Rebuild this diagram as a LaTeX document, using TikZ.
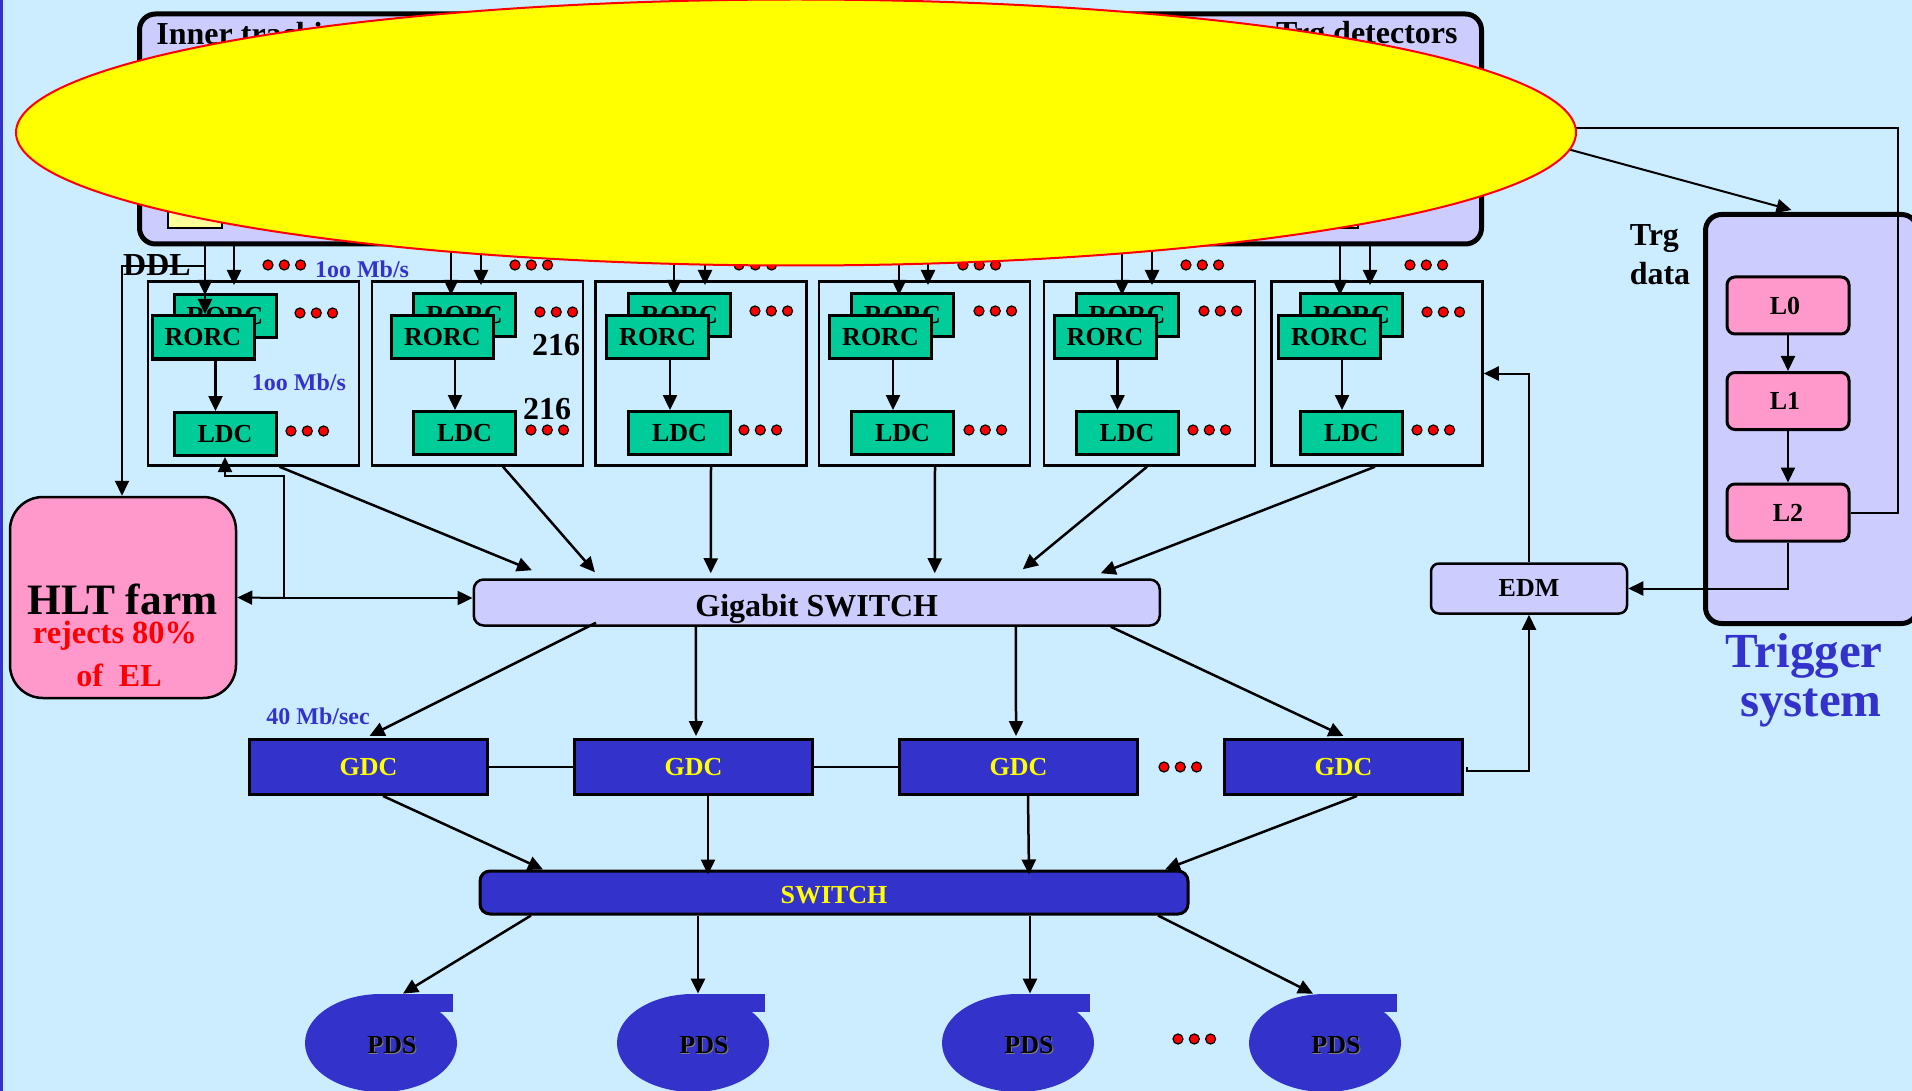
\documentclass[tikz,border=0pt]{standalone}
\usepackage{fontspec}
\setmainfont{Liberation Serif}
\usetikzlibrary{shapes.geometric,arrows.meta,positioning}
\definecolor{pagebg}{HTML}{CCECFF}
\definecolor{darkblue}{HTML}{3333CC}
\definecolor{lavender}{HTML}{CCCCFF}
\definecolor{rorcgreen}{HTML}{00CC99}
\definecolor{hotpink}{HTML}{FF99CC}
\definecolor{paleyellow}{HTML}{FFFF99}
\definecolor{fullyellow}{HTML}{FFFF00}
\definecolor{fullred}{HTML}{FF0000}

\begin{document}
\begin{tikzpicture}[
    x=0.5pt, y=-0.5pt,
    every node/.style={font=\bfseries\fontsize{13}{15}\selectfont},
    arrow/.style={-{Triangle[length=7.5pt,width=7pt]}, line width=1.25pt},
    thinarrow/.style={-{Triangle[length=7.5pt,width=7pt]}, line width=1pt},
    panel/.style={draw, line width=1.25pt, minimum width=105.5pt, minimum height=92pt},
    rorc/.style={draw, line width=1.5pt, fill=rorcgreen, inner sep=0pt, minimum width=51pt, minimum height=21.5pt},
    gdc/.style={draw, line width=1.5pt, fill=darkblue, text=fullyellow, inner sep=0pt, minimum width=119pt, minimum height=27.5pt},
    level/.style={draw, line width=1.5pt, fill=hotpink, rounded corners=4pt, inner sep=0pt, minimum width=61pt, minimum height=28.5pt},
    pds/.style={ellipse, fill=darkblue, inner sep=0pt, minimum width=76pt, minimum height=49pt,
        label={[xshift=6pt,yshift=-1.4pt,text=gray]center:PDS}, label={[xshift=5.5pt,yshift=-1pt]center:PDS}},
    reddot/.style={fill=fullred, draw=black, line width=0.6pt},
    bluetext/.style={text=darkblue, font=\bfseries\fontsize{12}{14}\selectfont},
    bigtext/.style={font=\bfseries\fontsize{16}{19.5}\selectfont}
]
\path[use as bounding box] (0,0) rectangle (1912,1091);
\fill[pagebg] (0,0) rectangle (1912,1091);
\fill[darkblue] (0,0) rectangle (2.5,1091);

% detectors on top
\node (inner) [draw, line width=2.5pt, fill=lavender, rounded corners=8pt, minimum width=671pt, minimum height=115pt] at (810.5,129) {};
\node (innerlbl) [bigtext, anchor=base west, inner sep=0pt] at (156,45) {Inner tracking};
\node (trglbl) [bigtext, anchor=base east, inner sep=0pt] at (1458,44) {Trg detectors};
\node (yellowa) [draw, line width=1pt, fill=paleyellow, minimum width=27pt, minimum height=20pt] at (195,208) {};
\node (yellowb) [draw, line width=1pt, fill=paleyellow, minimum width=27pt, minimum height=20pt] at (1331,208) {};

% readout panels
\node (panel1) [panel] at (253.5,373.5) {};
\node (panel2) [panel] at (477.5,373.5) {};
\node (panel3) [panel] at (701,373.5) {};
\node (panel4) [panel] at (924.5,373.5) {};
\node (panel5) [panel] at (1149.5,373.5) {};
\node (panel6) [panel] at (1377,373.5) {};

\node (rorcb1) [rorc] at (225,316) {RORC};
\node (rorcb2) [rorc] at (464.5,315) {RORC};
\node (rorcb3) [rorc] at (679.5,315) {RORC};
\node (rorcb4) [rorc] at (902.5,315) {RORC};
\node (rorcb5) [rorc] at (1127,315) {RORC};
\node (rorcb6) [rorc] at (1351.5,315) {RORC};

\node (ldc1) [rorc, below of=rorcb1, node distance=59pt] {LDC};
\node (ldc2) [rorc, below of=rorcb2, node distance=59pt] {LDC};
\node (ldc3) [rorc, below of=rorcb3, node distance=59pt] {LDC};
\node (ldc4) [rorc, below of=rorcb4, node distance=59pt] {LDC};
\node (ldc5) [rorc, below of=rorcb5, node distance=59pt] {LDC};
\node (ldc6) [rorc, below of=rorcb6, node distance=59pt] {LDC};

% links into the panels
\foreach \xa/\xb in {205/234, 451/481, 674/705, 899/928, 1122/1152, 1340/1370} {
    \coordinate (tipa) at (\xa,295);
    \coordinate (tipb) at (\xb,285);
    \draw[arrow] (tipa |- inner.south) -- (tipa);
    \draw[arrow] (tipb |- inner.south) -- (tipb);
}
\coordinate (tipc) at (205,314);
\draw[arrow] (tipc |- rorcb1.north) -- (tipc);

\node (rorcf1) [rorc] at (203,337.5) {RORC};
\node (rorcf2) [rorc] at (442.5,337) {RORC};
\node (rorcf3) [rorc] at (657.5,337) {RORC};
\node (rorcf4) [rorc] at (880.5,337) {RORC};
\node (rorcf5) [rorc] at (1105,337) {RORC};
\node (rorcf6) [rorc] at (1329.5,337) {RORC};

\draw[arrow] ([xshift=6.25pt]rorcf1.south) -- ([xshift=-4.75pt]ldc1.north);
\draw[arrow] ([xshift=6.25pt]rorcf2.south) -- ([xshift=-4.75pt]ldc2.north);
\draw[arrow] ([xshift=6.25pt]rorcf3.south) -- ([xshift=-4.75pt]ldc3.north);
\draw[arrow] ([xshift=6.25pt]rorcf4.south) -- ([xshift=-4.75pt]ldc4.north);
\draw[arrow] ([xshift=6.25pt]rorcf5.south) -- ([xshift=-4.75pt]ldc5.north);
\draw[arrow] ([xshift=6.25pt]rorcf6.south) -- ([xshift=-4.75pt]ldc6.north);

% three red dots
\foreach \x/\y in {268/265, 515/265, 739/265, 963/265, 1186/265, 1410/265,
                   300/313, 540/312, 755/311, 979/311, 1204/311, 1427/312,
                   291/431, 531/430, 744/430, 969/430, 1193/430, 1417/430,
                   1164/767, 1178/1039} {
    \foreach \d in {0,16.3,32.6}
        \filldraw[reddot] ({\x+\d},\y) circle (2.5pt);
}

\node (ddl) [bigtext] at (157,265) {DDL};
\node (ratea) [bluetext] at (362,269) {1oo Mb/s};
\node (rateb) [bluetext] at (299,382) {1oo Mb/s};
\node (counta) [bigtext] at (556,345) {216};
\node (countb) [bigtext] at (547,409) {216};

% HLT farm
\node (hlt) [draw, line width=1.25pt, fill=hotpink, rounded corners=16.5pt, minimum width=113pt, minimum height=100.5pt] at (123,597.5) {};
\node (hltlbl) [font=\bfseries\fontsize{21.7}{25}\selectfont] at (122.5,599) {HLT farm};
\node (rejects) [text=fullred, font=\bfseries\fontsize{16.2}{19}\selectfont] at (115,636) {rejects 80\%};
\node (ofel) [text=fullred, font=\bfseries\fontsize{16}{19}\selectfont] at (119,675) {of\ \ EL};

% switches
\node (gigabit) [draw, line width=1.25pt, fill=lavender, rounded corners=5pt, minimum width=343pt, minimum height=23pt, text height=14pt, text depth=0pt, font=\bfseries\fontsize{16}{19}\selectfont] at (816.75,602.5) {Gigabit SWITCH};
\node (switch) [draw, line width=1.5pt, fill=darkblue, text=fullyellow, rounded corners=5pt, minimum width=354pt, minimum height=21.5pt, text height=11pt, text depth=0pt] at (834,892.5) {SWITCH};

% GDC row
\node (gdc1) [gdc] at (368.5,767) {GDC};
\node (gdc2) [gdc] at (693.5,767) {GDC};
\node (gdc3) [gdc] at (1018.5,767) {GDC};
\node (gdc4) [gdc] at (1343.5,767) {GDC};
\node (rategdc) [bluetext] at (318,716) {40 Mb/sec};
\draw[line width=1pt] (gdc1) -- (gdc2);
\draw[line width=1pt] (gdc2) -- (gdc3);

% PDS row
\node (pds1) [pds] at (381,1043) {};
\node (pds2) [pds] at (693,1043) {};
\node (pds3) [pds] at (1018,1043) {};
\node (pds4) [pds] at (1325,1043) {};
\fill[darkblue] (pds1.north) rectangle ++(36pt,-9pt);
\fill[darkblue] (pds2.north) rectangle ++(36pt,-9pt);
\fill[darkblue] (pds3.north) rectangle ++(36pt,-9pt);
\fill[darkblue] (pds4.north) rectangle ++(36pt,-9pt);

% trigger system
\node (trigger) [draw, line width=2.5pt, fill=lavender, rounded corners=8pt, minimum width=106pt, minimum height=204.5pt] at (1811.5,419) {};
\node (l0) [level] at (1788,305.5) {L0\hspace*{3pt}};
\node (l1) [level, below of=l0, node distance=47.75pt] {L1\hspace*{3pt}};
\node (l2) [level, below of=l1, node distance=55.75pt] {L2};
\node (edm) [draw, line width=1.25pt, fill=lavender, rounded corners=4pt, inner sep=0pt, minimum width=98pt, minimum height=25pt] at (1529,588.5) {EDM};
\node (trgdata) [bigtext, align=left] at (1660,255) {Trg\\data};
\node (trigsys) [text=darkblue, align=center, font=\bfseries\fontsize{24.5}{24.5}\selectfont] at (1804,680.5) {Trigger\\\hspace*{7pt}system};

% connectors
\draw[arrow] ([xshift=13pt]panel1.south) -- ([xshift=-142.4pt,yshift=4pt]gigabit.north);
\draw[arrow] ([xshift=12.75pt]panel2.south) -- ([xshift=-110.9pt,yshift=3pt]gigabit.north);
\draw[arrow] ([xshift=5pt]panel3.south) -- ([xshift=-53pt,yshift=2.5pt]gigabit.north);
\draw[arrow] ([xshift=5.25pt]panel4.south) -- ([xshift=59pt,yshift=2.5pt]gigabit.north);
\draw[arrow] ([xshift=-1.25pt]panel5.south) -- ([xshift=103pt,yshift=4.5pt]gigabit.north);
\draw[arrow] ([xshift=-1pt]panel6.south) -- ([xshift=142pt,yshift=2.5pt]gigabit.north);

\coordinate (junc) at (284,598);
\coordinate (turnldc) at (284,476);
\draw[thinarrow] (junc) -- (hlt.east);
\draw[thinarrow] (junc) -- (turnldc) -| (ldc1.south);
\draw[arrow] ([xshift=-3pt]junc) -- (junc -| gigabit.west);

\coordinate (turnddl) at (122,266.5);
\coordinate (startddl) at (204,266.5);
\draw[thinarrow] (startddl) -- (turnddl) -- (hlt.north -| turnddl);

\draw[arrow] ([xshift=-110.4pt,yshift=2pt]gigabit.south) -- ([xshift=0.5pt,yshift=1pt]gdc1.north);
\draw[arrow] ([xshift=-60.4pt]gigabit.south) -- ([xshift=1.25pt,yshift=1pt]gdc2.north);
\draw[arrow] ([xshift=99.6pt]gigabit.south) -- ([xshift=-1.25pt,yshift=1pt]gdc3.north);
\draw[arrow] ([xshift=147pt]gigabit.south) -- ([yshift=1pt]gdc4.north);

\draw[arrow] ([xshift=7.25pt]gdc1.south) -- ([xshift=-145.5pt]switch.north);
\draw[arrow] ([xshift=7.25pt]gdc2.south) -- ([xshift=-63pt,yshift=-2.5pt]switch.north);
\draw[arrow] ([xshift=4.75pt]gdc3.south) -- ([xshift=97.5pt,yshift=-2.5pt]switch.north);
\draw[arrow] ([xshift=6.75pt]gdc4.south) -- ([xshift=165.5pt]switch.north);

\draw[arrow] ([xshift=-151.5pt]switch.south) -- ([xshift=11pt]pds1.north);
\draw[arrow] ([xshift=-68pt]switch.south) -- ([xshift=2.5pt]pds2.north);
\draw[arrow] ([xshift=98pt]switch.south) -- ([xshift=6pt]pds3.north);
\draw[arrow] ([xshift=162pt]switch.south) -- ([xshift=-6pt]pds4.north);

\draw[thinarrow] (l0) -- (l1);
\draw[thinarrow] (l1) -- (l2);
\draw[thinarrow] (l2.south) |- (edm.east);
\coordinate (turntrg) at (1898,128);
\draw[line width=1pt] (l2.east) -| (turntrg) -- (1570,128);
\draw[thinarrow] (edm.north) |- (panel6.east);
\draw[thinarrow] ([xshift=1.5pt]gdc4.east) -- ++(0,4) -| (edm.south);

% the big ellipse
\coordinate (trgfrom) at (1560,147);
\draw[thinarrow] (trgfrom) -- ([xshift=-10pt,yshift=1pt]trigger.north);
\node (cover) [ellipse, draw=fullred, line width=1pt, fill=fullyellow, inner sep=0pt, minimum width=780pt, minimum height=133pt] at (796,132.5) {};
\end{tikzpicture}
\end{document}
